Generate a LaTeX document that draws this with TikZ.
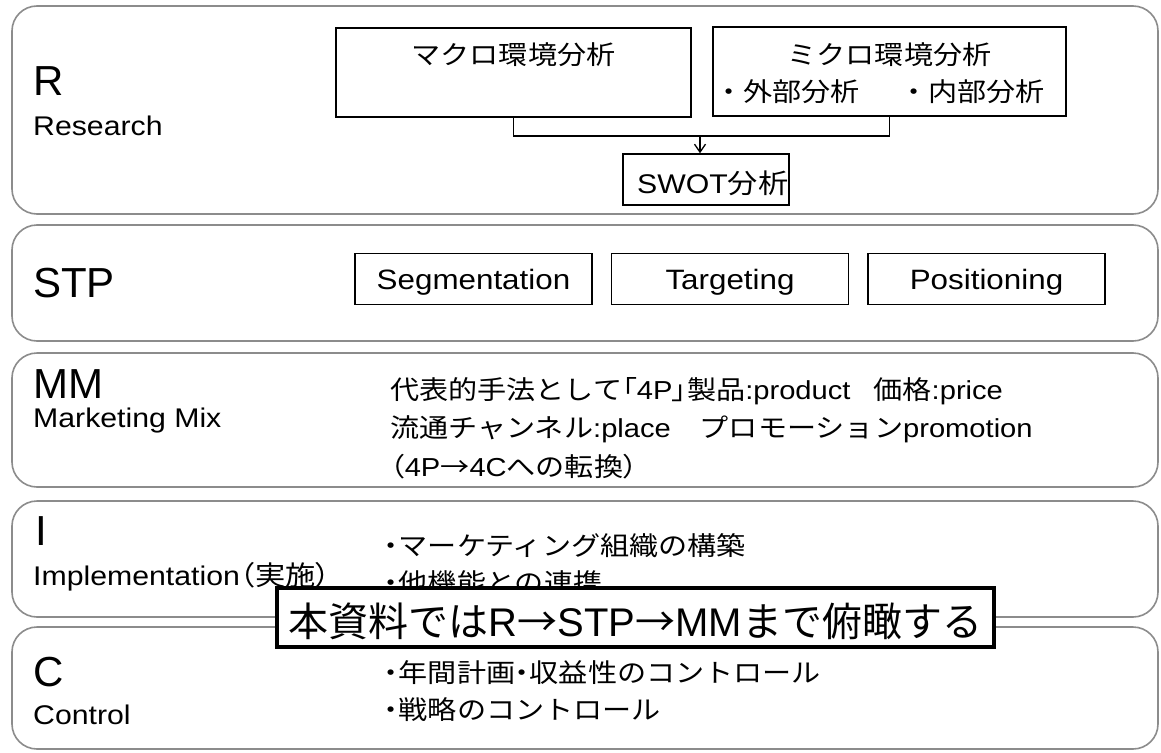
\documentclass[tikz,border=0pt]{standalone}
\usepackage{fontspec}
\setmainfont{Liberation Sans}[FakeStretch=1.12]
\newfontfamily\bigfont{Liberation Sans}
\newfontfamily\jtfont{Noto Sans CJK JP}[FakeStretch=1.12]
\newfontfamily\jpfont{Noto Sans CJK JP}[FakeStretch=1.12,RawFeature=+palt]
\newfontfamily\jbigfont{Noto Sans CJK JP}
\newcommand{\Jt}[1]{{\jtfont #1}}
\newcommand{\Jp}[1]{{\jpfont #1}}
\newcommand{\Lat}[1]{{\bigfont #1}}
\newcommand{\fsz}[1]{\fontsize{#1}{#1}\selectfont}
\usetikzlibrary{arrows.meta}
\begin{document}
\begin{tikzpicture}[x=1pt,y=-1pt,
  panel/.style={draw=black!45, line width=1.6pt, rounded corners=25pt},
  box/.style={draw=black, line width=1.4pt, fill=white, inner sep=0pt},
  stpbox/.style={box, minimum width=237pt, minimum height=51pt, font=\fsz{28}, text height=20pt, text depth=0pt},
  lbl/.style={anchor=base west, inner sep=0pt},
  bigl/.style={lbl, font=\bigfont\fsz{42}},
  subl/.style={lbl, font=\fsz{27}},
  body/.style={lbl, font=\fsz{26}},
  conn/.style={line width=1.3pt},
  arr/.style={conn, -{Straight Barb[length=8pt,width=11pt]}},
  callout/.style={draw=black, line width=4.5pt, fill=white, inner sep=0pt, minimum width=717pt, minimum height=59pt, text height=38pt, text depth=0pt, font=\jbigfont\fsz{40}}
]
\useasboundingbox (0,0) rectangle (1161,752);
\fill[white] (0,0) rectangle (1161,752);

% panels
\draw[panel] (12,6) rectangle (1158,214);
\draw[panel] (12,225) rectangle (1158,341);
\draw[panel] (12,353) rectangle (1158,487);
\draw[panel] (12,501) rectangle (1158,617);
\draw[panel] (12,627) rectangle (1158,749);

% left labels
\node[bigl] (rL) at (33,95) {R};
\node[subl] (rS) at (33,135) {Research};
\node[bigl] (stpL) at (33,297) {STP};
\node[bigl] (mmL) at (33,398) {MM};
\node[subl] (mmS) at (33,427) {Marketing Mix};
\node[bigl] (iL) at (35,545) {I};
\node[subl] (iS) at (33,585) {Implementation\Jp{（実施）}};
\node[bigl] (cL) at (33,686) {C};
\node[subl] (cS) at (33,724) {Control};

% Research
\node[box, minimum width=355pt, minimum height=89pt] (macro) at (513.5,72.5) {};
\node[box, minimum width=353pt, minimum height=89pt] (micro) at (889.5,71.5) {};
\node[body, anchor=base] (macroT) at (513.5,65) {\Jt{マクロ環境分析}};
\node[body, anchor=base] (microT) at (889.5,65) {\Jt{ミクロ環境分析}};
\node[body] (microA) at (714,101) {\Jt{・外部分析}};
\node[body] (microB) at (899,101) {\Jt{・内部分析}};
\node[box, minimum width=166pt, minimum height=51pt] (swot) at (706,179.5) {};
\node[lbl, font=\fsz{27}] (swotT) at (637,193) {SWOT\Jt{分析}};
\coordinate (jn) at (700,136);
\draw[conn] (macro.south) |- (jn) -| (micro.south);
\draw[arr] (jn) -- (jn |- swot.north);

% STP
\node[stpbox] (seg) at (473.5,279) {Segmentation};
\node[stpbox] (tar) at (730,279) {Targeting};
\node[stpbox] (pos) at (986.5,279) {Positioning};

% MM
\node[body] (mm1) at (390,399) {\Jt{代表的手法として}\Jp{「}4P\Jp{」}\Jt{製品}:product\hspace{23pt}\Jt{価格}:price};
\node[body] (mm2) at (390,437) {\Jt{流通チャンネル}:place\hspace{29pt}\Jt{プロモーション}promotion};
\node[body] (mm3) at (390,476) {\Jp{（}4P\Jt{→}4C\Jt{への転換}\Jp{）}};

% I
\node[body] (i1) at (384,555) {\Jp{・}\Jt{マーケティング組織の構築}};
\node[body] (i2) at (384,592) {\Jp{・}\Jt{他機能との連携}};

% C
\node[body] (c1) at (384,682) {\Jp{・}\Jt{年間計画}\Jp{・}\Jt{収益性のコントロール}};
\node[body] (c2) at (384,719) {\Jp{・}\Jt{戦略のコントロール}};

% callout
\node[callout] (note) at (635.5,617.5) {本資料では\Lat{R}→\Lat{STP}→\Lat{MM}まで俯瞰する};
\end{tikzpicture}
\end{document}
